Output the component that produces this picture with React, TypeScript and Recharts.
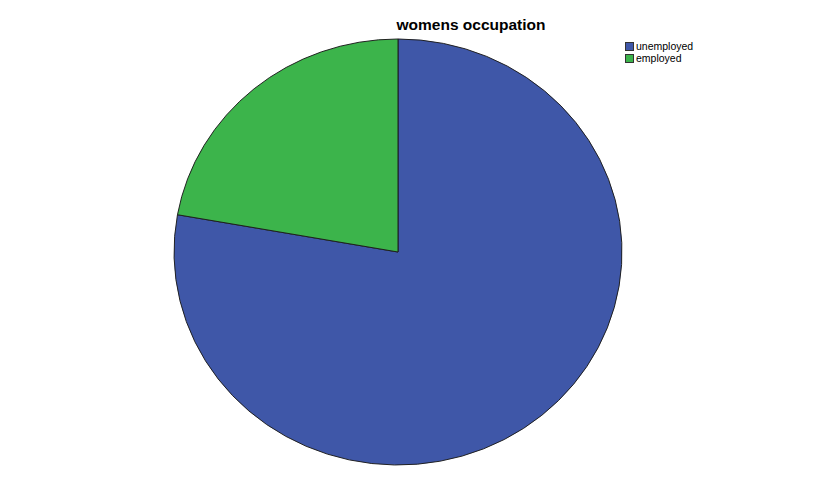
import React from 'react';
import { PieChart, Pie, Cell, Sector } from 'recharts';

const categories = ['unemployed', 'employed'];
const shares = [77.8, 22.2];
const colors = ['#3F57A8', '#3CB44B'];

const data = categories.map((name, i) => ({ name, value: shares[i] }));

const SY = 213 / 224;

// SPSS draws the pie slightly flattened, so squash each sector vertically
const EllipseSector = (props: any) => {
  const { cx, cy } = props;
  return (
    <g transform={`translate(${cx} ${cy}) scale(1 ${SY}) translate(${-cx} ${-cy})`}>
      <Sector {...props} />
    </g>
  );
};

const font = 'Liberation Sans, Arial, sans-serif';

const App: React.FC = () => {
  return (
    <div style={{ position: 'absolute', left: 0, top: 0, width: 833, height: 478, background: '#fff' }}>
      <div
        style={{
          position: 'absolute',
          left: 0,
          width: 942,
          top: 16,
          textAlign: 'center',
          fontFamily: font,
          fontWeight: 'bold',
          fontSize: 15.5,
          color: '#000',
          zIndex: 1,
        }}
      >
        womens occupation
      </div>
      <ul style={{ position: 'absolute', left: 625, top: 40, listStyle: 'none', margin: 0, padding: 0, zIndex: 1 }}>
        {categories.map((c, i) => (
          <li key={c} style={{ display: 'flex', alignItems: 'center', height: 12, fontSize: 10.5, color: '#000', fontFamily: font }}>
            <span
              style={{ display: 'inline-block', width: 9, height: 9, background: colors[i], border: '1px solid #333', boxSizing: 'border-box', marginRight: 2 }}
            />
            {c}
          </li>
        ))}
      </ul>
      <PieChart width={833} height={478} margin={{ top: 0, right: 0, bottom: 0, left: 0 }}>
        <Pie
          data={data}
          dataKey="value"
          nameKey="name"
          cx={398}
          cy={252}
          outerRadius={224}
          startAngle={90}
          endAngle={-270}
          stroke="#1e1e1e"
          strokeWidth={1}
          shape={EllipseSector}
          isAnimationActive={false}
        >
          {data.map((d, i) => (
            <Cell key={d.name} fill={colors[i]} />
          ))}
        </Pie>
      </PieChart>
    </div>
  );
};

export default App;
